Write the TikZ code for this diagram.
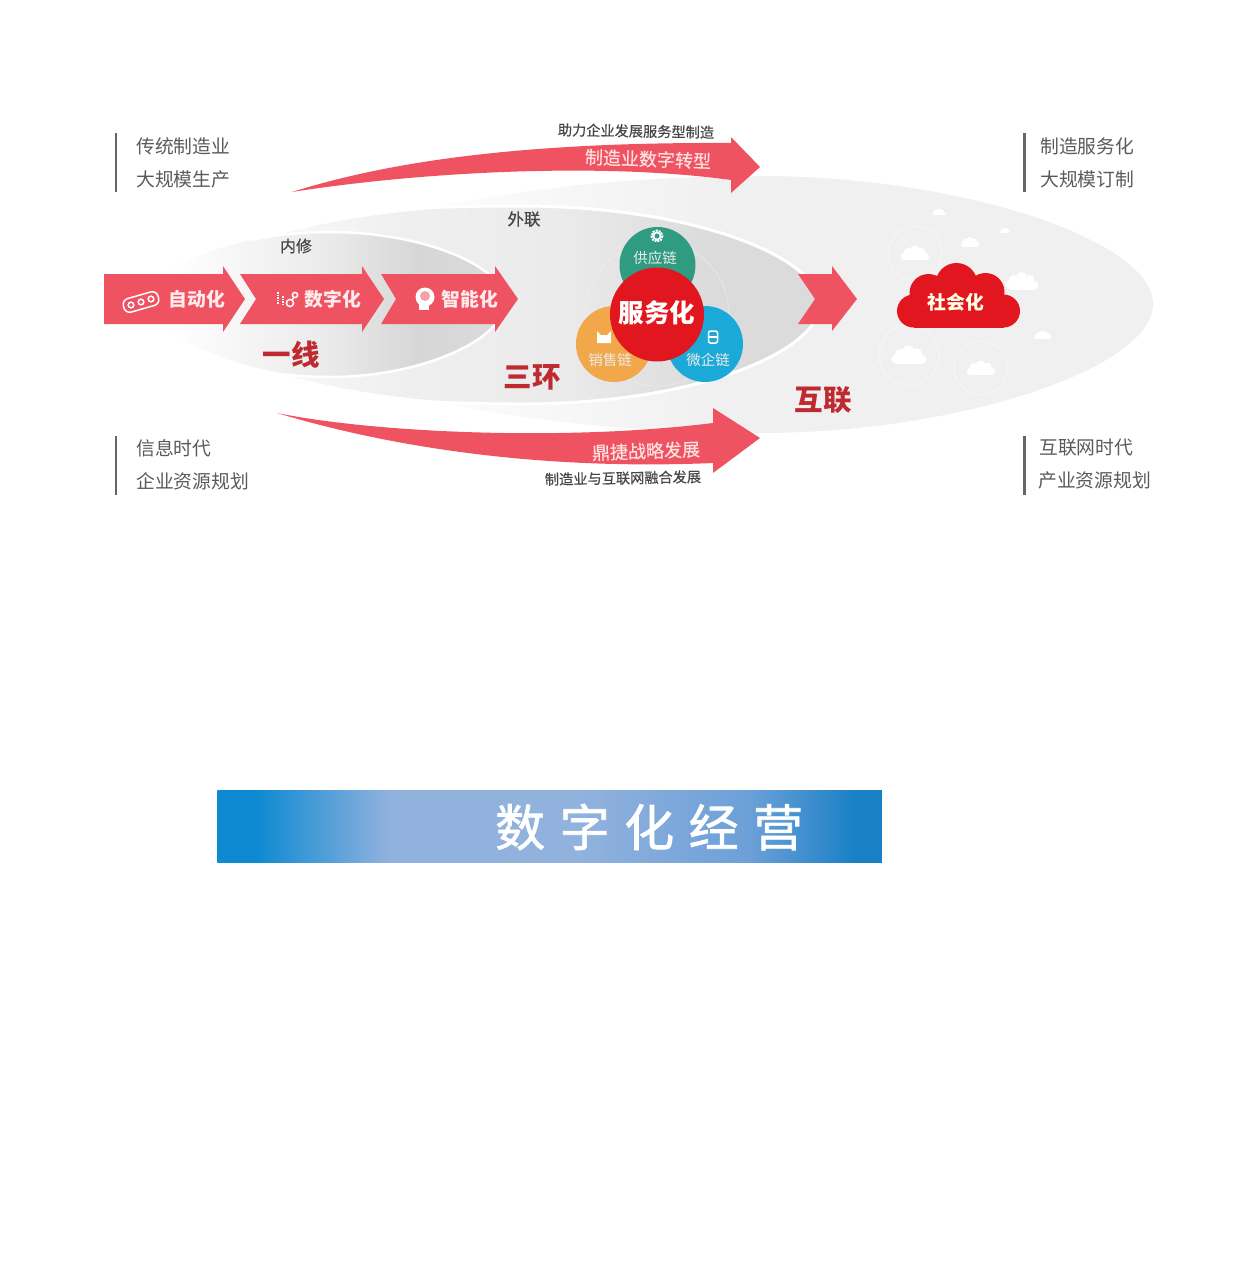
\documentclass[tikz,border=0pt]{standalone}
\usepackage{fontspec}
\setmainfont{Noto Sans CJK SC}
\newfontfamily\bannerfont[LetterSpace=29,FakeBold=1.4]{Noto Sans CJK SC}
\newfontfamily\notefont[FakeBold=0.5]{Noto Sans CJK SC}
\usepackage{tikz}

\definecolor{ArrowRed}{HTML}{EF5361}
\definecolor{DarkRed}{HTML}{BE2A30}
\definecolor{CoreRed}{HTML}{E2161F}
\definecolor{SideGray}{HTML}{5A5A5A}
\definecolor{BarGray}{HTML}{666666}
\definecolor{ChainGreen}{HTML}{2F9B80}
\definecolor{ChainOrange}{HTML}{F2A84A}
\definecolor{ChainBlue}{HTML}{1BAAD8}
\definecolor{BannerDeep}{HTML}{0E8AD2}
\definecolor{BannerPale}{HTML}{92B2DE}
\definecolor{BannerMid}{HTML}{6CA0D8}
\definecolor{BannerEnd}{HTML}{1A80C6}

\pgfdeclarehorizontalshading{OuterShade}{100bp}{
  color(0bp)=(white); color(38bp)=(white); color(55bp)=(black!6);
  color(100bp)=(black!6)}
\pgfdeclarehorizontalshading{MiddleShade}{100bp}{
  color(0bp)=(white); color(31bp)=(white); color(45bp)=(black!6);
  color(57bp)=(black!8); color(67bp)=(black!14); color(100bp)=(black!14)}
\pgfdeclarehorizontalshading{InnerShade}{100bp}{
  color(0bp)=(white); color(32bp)=(white); color(52bp)=(black!8);
  color(64bp)=(black!16); color(75bp)=(black!14); color(100bp)=(black!14)}
\pgfdeclarehorizontalshading{BannerShade}{100bp}{
  color(0bp)=(BannerDeep); color(28bp)=(BannerDeep); color(38bp)=(BannerPale);
  color(52bp)=(BannerPale); color(65bp)=(BannerMid); color(73bp)=(BannerEnd);
  color(100bp)=(BannerEnd)}

\begin{document}
\begin{tikzpicture}[x=1pt,y=-1pt]
  \tikzset{ArrowStyle/.style = {
    fill          = ArrowRed,
    draw          = none
    }
  }
  \tikzset{BarStyle/.style = {
    draw          = BarGray,
    line width    = 2.6pt
    }
  }
  \tikzset{SideStyle/.style = {
    anchor        = west,
    inner sep     = 0pt,
    text          = SideGray,
    font          = \fontsize{18.8}{18.8}\selectfont
    }
  }
  \tikzset{NoteStyle/.style = {
    inner sep     = 0pt,
    text          = black!72,
    font          = \notefont\fontsize{14.2}{14.2}\selectfont
    }
  }
  \tikzset{HeadStyle/.style = {
    inner sep     = 0pt,
    text          = DarkRed,
    font          = \fontsize{28.5}{28.5}\bfseries\selectfont
    }
  }
  \tikzset{OnRedStyle/.style = {
    inner sep     = 0pt,
    text          = white!92!red,
    font          = \fontsize{18.8}{18.8}\bfseries\selectfont
    }
  }
  \tikzset{ChainStyle/.style = {
    shape         = circle,
    minimum size  = 76pt,
    inner sep     = 0pt
    }
  }
  \tikzset{ChainTextStyle/.style = {
    inner sep     = 0pt,
    text          = white!92!black,
    font          = \fontsize{14.5}{14.5}\selectfont
    }
  }
  \tikzset{IconLine/.style = {
    draw          = white,
    line width    = 1.5pt,
    fill          = none
    }
  }
  \tikzset{HaloStyle/.style = {
    draw          = white,
    line width    = 0.8pt,
    densely dotted
    }
  }
  \tikzset{CloudShape/.pic = {
    \fill[pic actions] (-45,15) circle (16.5);
    \fill[pic actions] (-30,-3) circle (19);
    \fill[pic actions] (-2,-12) circle (21);
    \fill[pic actions] (27,-4) circle (19);
    \fill[pic actions] (45,15) circle (16.5);
    \fill[pic actions] (-45,0) rectangle (45,31.5);
    }
  }

  \useasboundingbox (0,0) rectangle (1237,1267);

  % lens shapes behind the arrows
  \path[shading=OuterShade] (100,304) .. controls (300,230) and (500,176) .. (760,176)
    .. controls (960,176) and (1153,240) .. (1153,304)
    .. controls (1153,368) and (960,433) .. (760,433)
    .. controls (500,433) and (300,378) .. (100,304) -- cycle;
  \path[shading=MiddleShade] (110,304) .. controls (230,235) and (360,206) .. (520,206)
    .. controls (700,206) and (820,260) .. (820,304)
    .. controls (820,350) and (700,404) .. (520,404)
    .. controls (360,404) and (230,370) .. (110,304) -- cycle;
  \draw[white,line width=3pt] (230,226) .. controls (320,211) and (420,206) .. (520,206)
    .. controls (700,206) and (820,260) .. (820,304)
    .. controls (820,350) and (700,404) .. (520,404)
    .. controls (420,404) and (320,396) .. (230,378);
  \path[shading=InnerShade] (115,300) .. controls (180,255) and (250,232) .. (330,232)
    .. controls (420,232) and (505,265) .. (505,302)
    .. controls (505,340) and (420,377) .. (330,377)
    .. controls (250,377) and (180,345) .. (115,300) -- cycle;
  \draw[white,line width=2.5pt] (250,240) .. controls (280,234) and (305,232) .. (330,232)
    .. controls (420,232) and (505,265) .. (505,302)
    .. controls (505,340) and (420,377) .. (330,377)
    .. controls (305,377) and (280,375) .. (250,369);

  % side bars
  \draw[BarStyle] (116,133) -- (116,192);
  \draw[BarStyle] (116,436) -- (116,495);
  \draw[BarStyle] (1024.5,133) -- (1024.5,192);
  \draw[BarStyle] (1024.5,436) -- (1024.5,495);

  \node[SideStyle](TopLeftA) at (136,146) {传统制造业};
  \node[SideStyle](TopLeftB) at (136,179) {大规模生产};
  \node[SideStyle](LowLeftA) at (136,448) {信息时代};
  \node[SideStyle](LowLeftB) at (136,481) {企业资源规划};
  \node[SideStyle](TopRightA) at (1040,146) {制造服务化};
  \node[SideStyle](TopRightB) at (1040,179) {大规模订制};
  \node[SideStyle](LowRightA) at (1039,447) {互联网时代};
  \node[SideStyle](LowRightB) at (1038,480) {产业资源规划};

  % curved arrows
  \fill[ArrowStyle] (292,192) .. controls (400,158) and (540,142) .. (731,143)
    -- (731,137) -- (760,167) -- (731,193) -- (731,180)
    .. controls (600,162) and (420,172) .. (292,192) -- cycle;
  \fill[ArrowStyle] (277,413) .. controls (370,432) and (560,442) .. (713,423)
    -- (713,408) -- (760,438) -- (713,473) -- (713,463)
    .. controls (550,470) and (400,450) .. (277,413) -- cycle;

  % process arrows
  \fill[ArrowStyle] (104,274) -- (223,274) -- (223,266) -- (245,299) -- (223,332) -- (223,324) -- (104,324) -- cycle;
  \fill[ArrowStyle] (240,274) -- (362,274) -- (362,266) -- (384,299) -- (362,332) -- (362,324) -- (240,324) -- (256,299) -- cycle;
  \fill[ArrowStyle] (381,274) -- (495,274) -- (495,266) -- (518,299) -- (495,332) -- (495,324) -- (381,324) -- (396,299) -- cycle;
  \fill[ArrowStyle] (798,274) -- (832,274) -- (832,266) -- (857,299) -- (832,331) -- (832,324) -- (798,324) -- (815,299) -- cycle;

  \node[OnRedStyle](AutoText) at (197,299) {自动化};
  \node[OnRedStyle](DigitText) at (333,299) {数字化};
  \node[OnRedStyle](SmartText) at (470,299) {智能化};

  % chain icon
  \draw[IconLine,rotate around={16:(141,302)},rounded corners=6pt] (123,295) rectangle (159,309);
  \draw[IconLine] (131,305) circle (2.8);
  \draw[IconLine] (141,302) circle (2.8);
  \draw[IconLine] (151,299) circle (2.8);

  % digit icon
  \draw[IconLine,densely dotted] (278,292) -- (278,304);
  \draw[IconLine,densely dotted] (283,296) -- (283,304);
  \draw[IconLine] (290,303) circle (3.6);
  \draw[IconLine] (295,295) circle (2.6);
  \draw[IconLine] (292,300) -- (294,297);

  % head icon
  \fill[white] (425,297) circle (9.5);
  \fill[white] (419,302) rectangle (429,310);
  \fill[ArrowRed!55!white] (425,296) circle (5);

  % labels above and below the curved arrows
  \node[NoteStyle,rotate=-1](TopNote) at (636,131) {助力企业发展服务型制造};
  \node[SideStyle,anchor=center,text=white!88!red,font=\notefont\fontsize{18}{18}\selectfont,rotate=-2](TopText) at (648,159) {制造业数字转型};
  \node[SideStyle,anchor=center,text=white!88!red,font=\notefont\fontsize{18}{18}\selectfont,rotate=2](LowText) at (646,451) {鼎捷战略发展};
  \node[NoteStyle,rotate=1](LowNote) at (623,478) {制造业与互联网融合发展};
  \node[NoteStyle,font=\notefont\fontsize{16.5}{16.5}\selectfont](OuterLink) at (524,219) {外联};
  \node[NoteStyle,font=\notefont\fontsize{16}{16}\selectfont](InnerLink) at (296,246) {内修};
  \node[HeadStyle](OneLine) at (291,355) {一线};
  \node[HeadStyle](ThreeRing) at (532,377) {三环};
  \node[HeadStyle](Connect) at (823,400) {互联};

  % three chains and the centre
  \draw[HaloStyle,white!60!black!12] (657,314) circle (72);
  \node[ChainStyle,fill=ChainGreen](Supply) at (657.5,265) {};
  \node[ChainStyle,fill=ChainOrange](Sales) at (614,344) {};
  \node[ChainStyle,fill=ChainBlue](Micro) at (705,344) {};
  \node[ChainStyle,fill=CoreRed,minimum size=94pt](Core) at (657,314.5) {};
  \node[inner sep=0pt,text=white,font=\fontsize{25.5}{25.5}\bfseries\selectfont](CoreText) at (657,313) {服务化};
  \node[ChainTextStyle](SupplyText) at (655,258) {供应链};
  \node[ChainTextStyle](SalesText) at (610,360) {销售链};
  \node[ChainTextStyle](MicroText) at (708,360) {微企链};

  % small chain icons
  \draw[white,line width=2pt,densely dotted] (657,236) circle (5.5);
  \draw[white,line width=1.6pt] (657,236) circle (3.5);
  \fill[white] (597,331) -- (601,335) -- (607,335) -- (611,331) -- (611,343) -- (597,343) -- cycle;
  \draw[IconLine,rounded corners=2pt] (708.5,331) rectangle (717.5,343);
  \draw[IconLine] (708.5,337) -- (717.5,337);

  % cloud field
  \draw[HaloStyle] (915,253) circle (27);
  \draw[HaloStyle] (909,355) circle (30);
  \draw[HaloStyle] (981,368) circle (27);
  \pic[fill=white,scale=.23] at (915,253) {CloudShape};
  \pic[fill=white,scale=.285] at (909,355) {CloudShape};
  \pic[fill=white,scale=.23] at (981,368) {CloudShape};
  \pic[fill=white,scale=.27] at (1022,281) {CloudShape};
  \pic[fill=white,scale=.15] at (970,242) {CloudShape};
  \pic[fill=white,scale=.11] at (939,212) {CloudShape};
  \pic[fill=white,scale=.14] at (1043,335) {CloudShape};
  \pic[fill=white,scale=.08] at (1005,230) {CloudShape};
  \pic[fill=CoreRed] at (958.5,296) {CloudShape};
  \node[OnRedStyle,text=white!90!yellow](SocialText) at (956,302) {社会化};

  % banner
  \node[shape=rectangle,minimum width=664.5pt,minimum height=72pt,inner sep=0pt,shading=BannerShade](Banner) at (549.5,826) {};
  \node[anchor=west,inner sep=0pt,text=white,font=\bannerfont\fontsize{50}{50}\selectfont](BannerText) at (495,827) {数字化经营};
\end{tikzpicture}
\end{document}
